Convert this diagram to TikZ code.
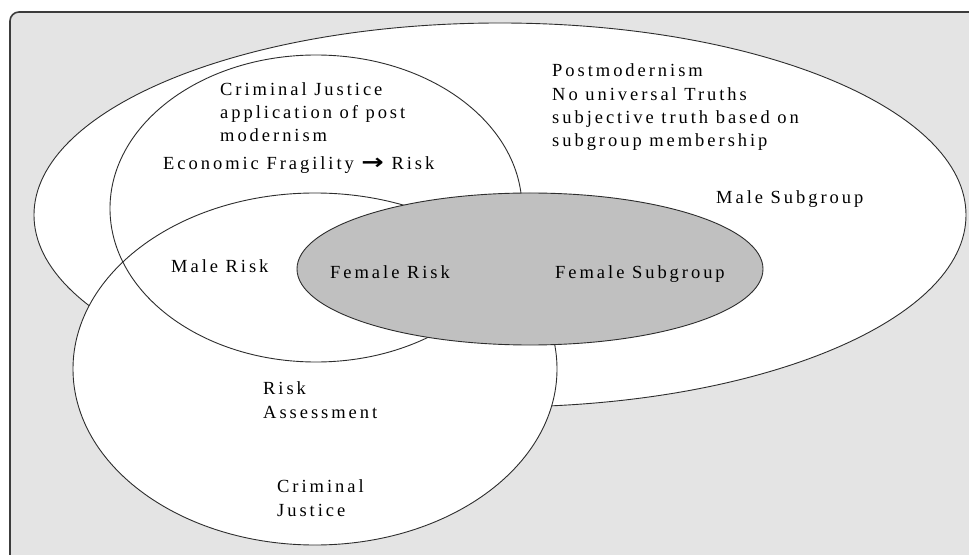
\documentclass[tikz,border=0pt]{standalone}
\usepackage{fontspec}
\usepackage{graphicx}
\setmainfont{Liberation Serif}[LetterSpace=16]
\newfontfamily\arrowfont{DejaVu Sans}

\definecolor{panelgray}{RGB}{228,228,228}
\definecolor{framegray}{RGB}{60,60,60}
\definecolor{femalegray}{RGB}{192,192,192}
\definecolor{outline}{RGB}{45,45,45}

\begin{document}
\begin{tikzpicture}[x=1bp, y=-1bp,
  venn/.style={draw=outline, line width=0.9bp},
  % multi-line labels are placed by the baseline of their last line
  lbl/.style={anchor=base west, inner sep=0pt, align=left,
              font=\fontsize{18.5bp}{23.4bp}\selectfont}]
\useasboundingbox (0,0) rectangle (969,555);

% background panel, running off the right and bottom edges
\begin{scope}
  \clip (0,0) rectangle (969,555);
  \draw[fill=panelgray, draw=framegray, line width=1.6bp, rounded corners=9bp]
    (10,12) rectangle (990,575);
\end{scope}

% Postmodernism / Male Subgroup
\draw[venn, fill=white] (500,215) ellipse [x radius=466bp, y radius=192bp];
% Criminal Justice
\draw[venn, fill=white] (315,369) ellipse [x radius=242bp, y radius=176bp];
% Criminal Justice application of post modernism (outline only)
\draw[venn] (316,208.5) ellipse [x radius=206bp, y radius=153.5bp];
% Female Subgroup
\draw[venn, fill=femalegray] (530,269) ellipse [x radius=233bp, y radius=76bp];

% labels
\node[lbl] (cjapp) at (220,142) {Criminal Justice\\application of post\\modernism};
\node[lbl] (fragility) at (163,170)
  {Economic Fragility \scalebox{1.45}[1.15]{\arrowfont\bfseries →} Risk};
\node[lbl] (postmod) at (552,147)
  {Postmodernism\\No universal Truths\\subjective truth based on\\subgroup membership};
\node[lbl] (malesub) at (716,204) {Male Subgroup};
\node[lbl] (malerisk) at (171,273) {Male Risk};
\node[lbl] (femrisk) at (330,279) {Female Risk};
\node[lbl] (femsub) at (555,279) {Female Subgroup};
\node[lbl] (riskassess) at (263,418) {Risk\\Assessment};
\node[lbl] (cjustice) at (277,516) {Criminal\\Justice};
\end{tikzpicture}
\end{document}
